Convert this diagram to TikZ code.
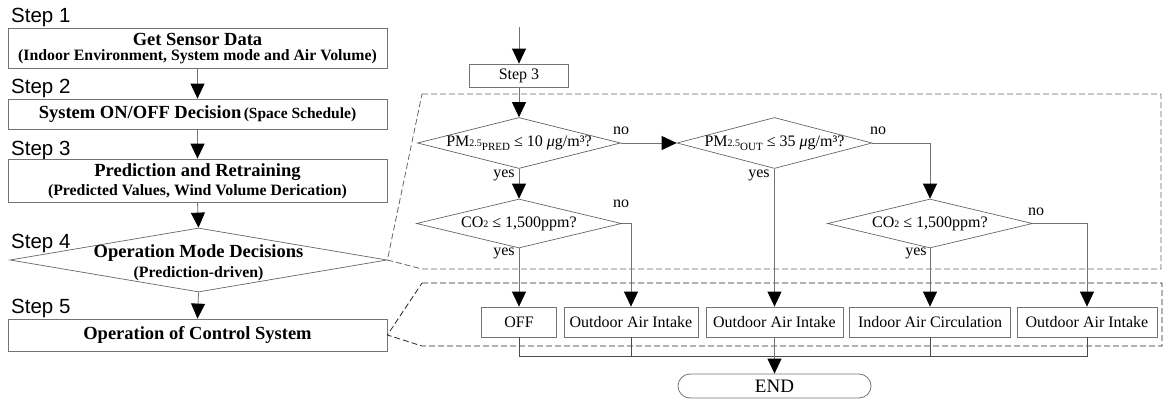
\documentclass[tikz,border=0pt]{standalone}
\usepackage{fontspec}
\setmainfont{Liberation Serif}
\newfontfamily\arialf{Liberation Sans}
\usetikzlibrary{arrows.meta,shapes.geometric}
\newcommand\fsz[2]{\fontsize{#1}{#2}\selectfont}
\begin{document}
\begin{tikzpicture}[x=1pt,y=-1pt,
  box/.style={draw=black!55, line width=0.8pt, rectangle, inner sep=0pt, align=center},
  dia/.style={draw=black!60, line width=0.7pt, diamond, inner sep=0pt},
  conn/.style={draw=black!55, line width=0.8pt},
  arr/.style={conn, -{Triangle[length=15pt,width=14pt,color=black]}},
  steplbl/.style={font=\arialf\fsz{20.5}{22}, anchor=base west, inner sep=0pt},
  rtxt/.style={font=\fsz{16}{18}, inner sep=0pt},
  yn/.style={font=\fsz{16}{18}, inner sep=0pt},
  zone/.style={dash pattern=on 6pt off 3pt, line width=0.8pt},
]
\useasboundingbox (0,0) rectangle (1170,402);

% ---------- left column ----------
\node[steplbl] (l1) at (11,22) {Step 1};
\node[box, minimum width=379, minimum height=40] (s1) at (197.5,48) {};
\node[inner sep=0pt, font=\bfseries\fsz{18.5}{20}] (s1a) at (197.5,39) {Get Sensor Data};
\node[inner sep=0pt, font=\bfseries\fsz{15.8}{18}] (s1b) at (197.5,57) {(Indoor Environment, System mode and Air Volume)};

\node[steplbl] (l2) at (11,93) {Step 2};
\node[box, minimum width=379, minimum height=30, font=\bfseries] (s2) at (197.5,114)
  {{\fsz{18.5}{20}System ON/OFF Decision} {\fsz{15.5}{18}(Space Schedule)}};

\node[steplbl] (l3) at (11,155) {Step 3};
\node[box, minimum width=379, minimum height=43] (s3) at (197.5,180.5) {};
\node[inner sep=0pt, font=\bfseries\fsz{18.5}{20}] (s3a) at (197.5,172) {Prediction and Retraining};
\node[inner sep=0pt, font=\bfseries\fsz{15.8}{18}] (s3b) at (197.5,192) {(Predicted Values, Wind Volume Derication)};

\node[steplbl] (l4) at (11,248) {Step 4};
\node[dia, minimum width=377, minimum height=64] (s4) at (198.5,260) {};
\node[inner sep=0pt, font=\bfseries\fsz{18.5}{20}] (s4a) at (198.5,253) {Operation Mode Decisions};
\node[inner sep=0pt, font=\bfseries\fsz{15.8}{18}] (s4b) at (198.5,274) {(Prediction-driven)};

\node[steplbl] (l5) at (11,313) {Step 5};
\node[box, minimum width=379, minimum height=32, font=\bfseries\fsz{18.5}{20}] (s5) at (197.5,335) {Operation of Control System};

\draw[arr] (s1.south) -- (s2.north);
\draw[arr] (s2.south) -- (s3.north);
\draw[arr] (s3.south) -- (s4.north);
\draw[arr] (s4.south) -- (s5.north);

% ---------- dashed zones ----------
\draw[zone, draw=black!60] (422,94) -- (1161,94) -- (1161,269) -- (422,269) -- (s4.east) -- cycle;
\draw[zone, draw=black!85] (422,283) -- (1162,283) -- (1162,346) -- (422,346) -- (s5.east) -- cycle;

% ---------- right flow ----------
\coordinate (in) at (519,27);
\node[box, minimum width=99, minimum height=23, font=\fsz{16}{18}] (st3) at (519,75.5) {Step 3};

\node[dia, minimum width=203, minimum height=51] (d1) at (519,143) {};
\node[rtxt] (d1t) at (519,143) {PM{\fsz{10}{10}2.5}\raisebox{-4pt}{\fsz{11}{11}PRED} ≤ 10 {\itshape μ}g/m³?};
\node[dia, minimum width=195, minimum height=51] (d2) at (774.5,143) {};
\node[rtxt] (d2t) at (774.5,143) {PM{\fsz{10}{10}2.5}\raisebox{-4pt}{\fsz{11}{11}OUT} ≤ 35 {\itshape μ}g/m³?};
\node[dia, minimum width=205, minimum height=49] (d3) at (519,223.5) {};
\node[rtxt] (d3t) at (519,223.5) {CO{\fsz{10}{10}2} ≤ 1,500ppm?};
\node[dia, minimum width=205, minimum height=49] (d4) at (930,223.5) {};
\node[rtxt] (d4t) at (930,223.5) {CO{\fsz{10}{10}2} ≤ 1,500ppm?};

\node[yn] (n1) at (621,131) {no};
\node[yn] (n2) at (878,131) {no};
\node[yn] (y1) at (504,175) {yes};
\node[yn] (y2) at (759,175) {yes};
\node[yn] (n3) at (621,204) {no};
\node[yn] (y3) at (504,253) {yes};
\node[yn] (n4) at (1036,212) {no};
\node[yn] (y4) at (916,253) {yes};

\node[box, minimum width=75, minimum height=30, font=\fsz{16}{18}] (off) at (519,322) {OFF};
\node[box, minimum width=134, minimum height=30, font=\fsz{16}{18}] (oia1) at (631,322) {Outdoor Air Intake};
\node[box, minimum width=137, minimum height=30, font=\fsz{16}{18}] (oia2) at (774.5,322) {Outdoor Air Intake};
\node[box, minimum width=161, minimum height=30, font=\fsz{16}{18}] (iac) at (930,322) {Indoor Air Circulation};
\node[box, minimum width=140, minimum height=30, font=\fsz{16}{18}] (oia3) at (1087,322) {Outdoor Air Intake};

\node[draw=black!55, line width=0.8pt, rectangle, rounded corners=12pt, minimum width=193, minimum height=24,
  inner sep=0pt, font=\fsz{19}{20}] (end) at (774.5,386) {END};

\draw[arr] (in) -- (st3.north);
\draw[arr] (st3.south) -- (d1.north);
\draw[arr] (d1.east) -- (d2.west);
\draw[arr] (d1.south) -- (d3.north);
\draw[arr] (d2.east) -| (d4.north);
\draw[arr] (d3.south) -- (off.north);
\draw[arr] (d3.east) -| (oia1.north);
\draw[arr] (d2.south) -- (oia2.north);
\draw[arr] (d4.south) -- (iac.north);
\draw[arr] (d4.east) -| (oia3.north);

\coordinate (m) at (774.5,356);
\draw[conn, draw=black!70] (off.south) |- (m);
\draw[conn, draw=black!70] (oia1.south) |- (m);
\draw[conn, draw=black!70] (iac.south) |- (m);
\draw[conn, draw=black!70] (oia3.south) |- (m);
\draw[arr] (oia2.south) -- (end.north);
\end{tikzpicture}
\end{document}
